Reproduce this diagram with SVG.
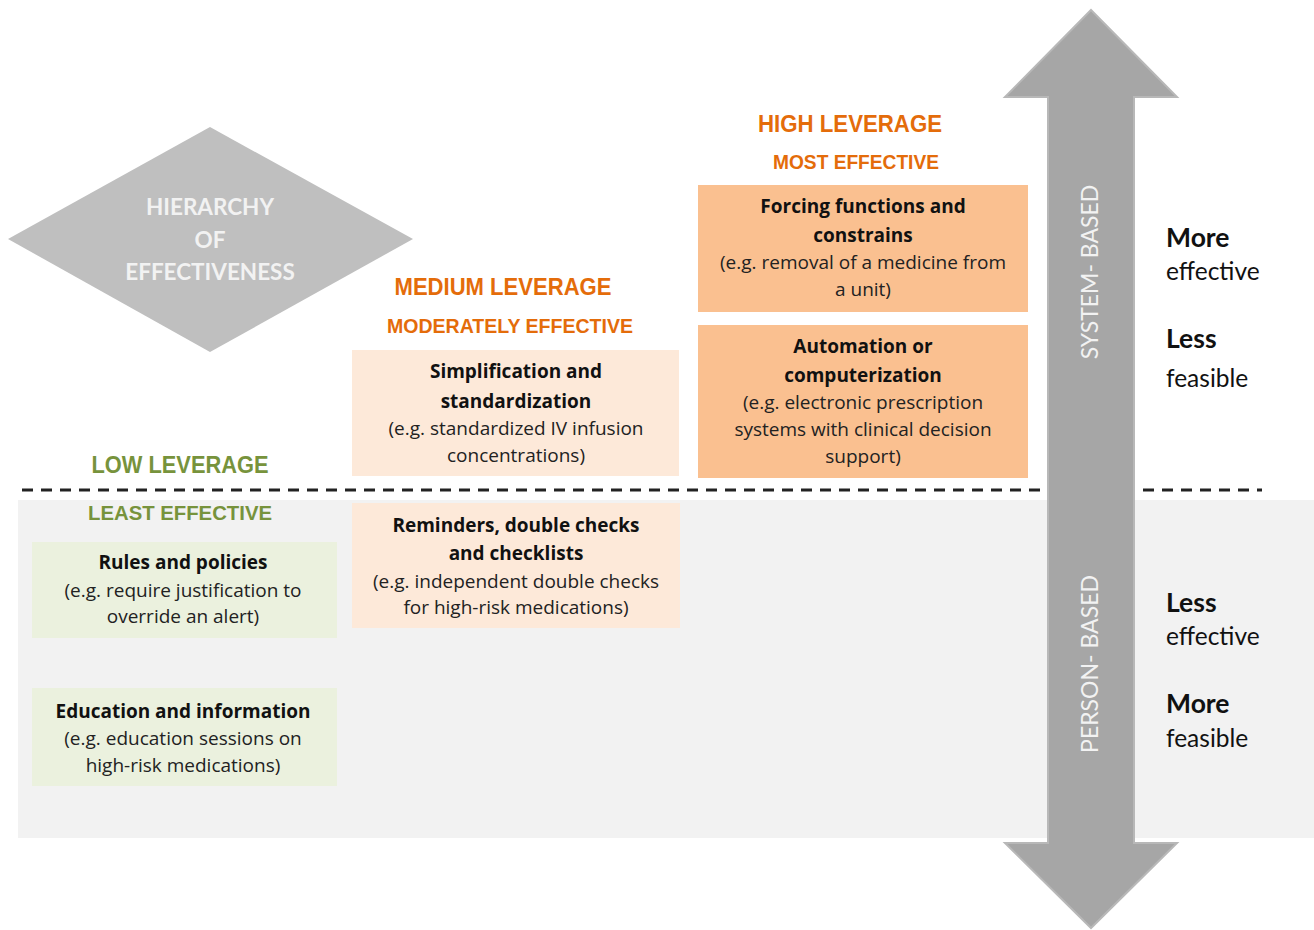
<svg xmlns="http://www.w3.org/2000/svg" width="1314" height="930" viewBox="0 0 1314 930">
<style>
.b{font-family:"Open Sans",Lato,"Liberation Sans",sans-serif;font-weight:bold;font-size:19px;fill:#111;text-anchor:middle}
.r{font-family:"Open Sans",Lato,"Liberation Sans",sans-serif;font-size:19px;fill:#222;text-anchor:middle}
.h{font-family:"Liberation Sans Narrow","Liberation Sans",sans-serif;font-weight:bold;text-anchor:middle}
.or{fill:#e46c0a}
.gr{fill:#77933c}
.side{font-family:Lato,"Open Sans","Liberation Sans",sans-serif;fill:#111}
.sb{font-weight:bold;font-size:26.5px}
.sr{font-size:24.5px}
.arrowtxt{font-family:Lato,"Open Sans","Liberation Sans",sans-serif;font-size:23px;fill:#f2f2f2;text-anchor:middle}
</style>
<rect x="0" y="0" width="1314" height="930" fill="#ffffff"/>
<rect id="person-zone" x="18" y="500" width="1296" height="338" fill="#f2f2f2"/>
<g id="connectors">
<line x1="22" y1="490" x2="1262" y2="490" stroke="#222" stroke-width="3" stroke-dasharray="11 8"/>
</g>
<g id="hierarchy">
<polygon points="8,239 210,127 413,239 210,352" fill="#bfbfbf"/>
<text x="210" y="215" text-anchor="middle" font-family="Lato,'Open Sans',sans-serif" font-weight="bold" font-size="22.5" fill="#f2f2f2">HIERARCHY</text>
<text x="210" y="248" text-anchor="middle" font-family="Lato,'Open Sans',sans-serif" font-weight="bold" font-size="22.5" fill="#f2f2f2">OF</text>
<text x="210" y="280" text-anchor="middle" font-family="Lato,'Open Sans',sans-serif" font-weight="bold" font-size="22.5" fill="#f2f2f2">EFFECTIVENESS</text>
</g>
<g id="axis-arrow">
<polygon points="1091,10 1177,97 1134,97 1134,843 1177,843 1091,928 1005,843 1048,843 1048,97 1005,97" fill="#a6a6a6" stroke="#b8b8b8" stroke-width="2"/>
<text class="arrowtxt" transform="translate(1098,272) rotate(-90)">SYSTEM- BASED</text>
<text class="arrowtxt" transform="translate(1098,664) rotate(-90)">PERSON- BASED</text>
</g>
<g id="high-leverage">
<text class="h or" x="850" y="132" font-size="24" textLength="184" lengthAdjust="spacingAndGlyphs">HIGH LEVERAGE</text>
<text class="h or" x="856" y="169" font-size="21" textLength="166" lengthAdjust="spacingAndGlyphs">MOST EFFECTIVE</text>
</g>
<g id="medium-leverage">
<text class="h or" x="503" y="295" font-size="24" textLength="217" lengthAdjust="spacingAndGlyphs">MEDIUM LEVERAGE</text>
<text class="h or" x="510" y="333" font-size="21" textLength="246" lengthAdjust="spacingAndGlyphs">MODERATELY EFFECTIVE</text>
</g>
<g id="low-leverage">
<text class="h gr" x="180" y="473" font-size="24" textLength="177" lengthAdjust="spacingAndGlyphs">LOW LEVERAGE</text>
<text class="h gr" x="180" y="520" font-size="21" textLength="184" lengthAdjust="spacingAndGlyphs">LEAST EFFECTIVE</text>
</g>
<g id="forcing">
<rect x="698" y="185" width="330" height="127" fill="#fac090"/>
<text class="b" x="863" y="213">Forcing functions and</text>
<text class="b" x="863" y="242">constrains</text>
<text class="r" x="863" y="269">(e.g. removal of a medicine from</text>
<text class="r" x="863" y="296">a unit)</text>
</g>
<g id="automation">
<rect x="698" y="325" width="330" height="153" fill="#fac090"/>
<text class="b" x="863" y="353">Automation or</text>
<text class="b" x="863" y="382">computerization</text>
<text class="r" x="863" y="409">(e.g. electronic prescription</text>
<text class="r" x="863" y="436">systems with clinical decision</text>
<text class="r" x="863" y="463">support)</text>
</g>
<g id="simplification">
<rect x="352" y="350" width="327" height="126" fill="#fde9d9"/>
<text class="b" x="516" y="378">Simplification and</text>
<text class="b" x="516" y="408">standardization</text>
<text class="r" x="516" y="435">(e.g. standardized IV infusion</text>
<text class="r" x="516" y="462">concentrations)</text>
</g>
<g id="reminders">
<rect x="352" y="503" width="328" height="125" fill="#fde9d9"/>
<text class="b" x="516" y="532">Reminders, double checks</text>
<text class="b" x="516" y="560">and checklists</text>
<text class="r" x="516" y="588">(e.g. independent double checks</text>
<text class="r" x="516" y="614">for high-risk medications)</text>
</g>
<g id="rules">
<rect x="32" y="542" width="305" height="96" fill="#ebf1de"/>
<text class="b" x="183" y="569">Rules and policies</text>
<text class="r" x="183" y="597">(e.g. require justification to</text>
<text class="r" x="183" y="623">override an alert)</text>
</g>
<g id="education">
<rect x="32" y="688" width="305" height="98" fill="#ebf1de"/>
<text class="b" x="183" y="718">Education and information</text>
<text class="r" x="183" y="745">(e.g. education sessions on</text>
<text class="r" x="183" y="772">high-risk medications)</text>
</g>
<g id="right-labels" class="side">
<text class="side sb" x="1166" y="247">More</text>
<text class="side sr" x="1166" y="280">effective</text>
<text class="side sb" x="1166" y="348">Less</text>
<text class="side sr" x="1166" y="387">feasible</text>
<text class="side sb" x="1166" y="612">Less</text>
<text class="side sr" x="1166" y="645">effective</text>
<text class="side sb" x="1166" y="713">More</text>
<text class="side sr" x="1166" y="747">feasible</text>
</g>
</svg>
